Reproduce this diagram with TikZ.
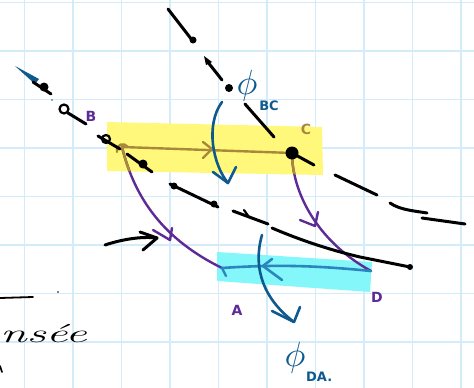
\documentclass[tikz,border=0pt]{standalone}
\usepackage{fontspec}
\setsansfont{DejaVu Sans}
\definecolor{gridblue}{HTML}{D4ECF9}
\definecolor{hlyellow}{HTML}{FFF87A}
\definecolor{hlcyan}{HTML}{7EF7FA}
\definecolor{purp}{HTML}{5E2A96}
\definecolor{brn}{HTML}{A8883A}
\definecolor{inkblue}{HTML}{0E5A8E}
\definecolor{lineblue}{HTML}{2C86BE}
\begin{document}
\begin{tikzpicture}[x=1pt,y=-1pt,
  gridline/.style={draw=gridblue,line width=1.3pt},
  ink/.style={black,line width=3pt,line cap=round,line join=round},
  thinink/.style={black,line width=2.2pt,line cap=round,line join=round},
  pline/.style={purp,line width=2.4pt,line cap=round,line join=round},
  bline/.style={inkblue,line width=2.6pt,line cap=round,line join=round},
  lab/.style={font=\sffamily\bfseries\fontsize{14}{14}\selectfont,inner sep=0pt},
  philab/.style={inkblue,inner sep=0pt},
  sublab/.style={inkblue,font=\sffamily\bfseries\fontsize{13}{13}\selectfont,inner sep=0pt}]
\useasboundingbox (0,0) rectangle (474,388);
\fill[white] (0,0) rectangle (474,388);
% grid
\foreach \x in {24.5,73,121.5,170,218.5,267,315.5,364,412.5,461}
  \draw[gridline] (\x,0) -- (\x,388);
\foreach \y in {2.5,51,99.5,148,196.5,245,293.5,342}
  \draw[gridline] (0,\y) -- (474,\y);
% key points
\coordinate (B) at (122,147);
\coordinate (C) at (292,153);
\coordinate (A) at (222,268);
\coordinate (D) at (371,271);
% highlights
\path[fill=hlyellow] (107,122) -- (322,127) -- (323,175) -- (107,171) -- cycle;
\path[fill=hlcyan,opacity=0.95] (217,252) -- (372,262) -- (370,292) -- (217,281) -- cycle;
% purple curves
\draw[pline] (B) .. controls (135,200) and (165,240) .. (A);
\draw[pline] (153,230) -- (170,240) -- (172,228);
\draw[pline] (C) .. controls (292,190) and (315,240) .. (D);
\draw[pline] (300,220) -- (315,226) -- (318,212);
% brown parts (purple under yellow)
\begin{scope}
  \clip (107,122) -- (322,127) -- (323,175) -- (107,171) -- cycle;
  \draw[pline,brn] (B) .. controls (135,200) and (165,240) .. (A);
  \draw[pline,brn] (C) .. controls (292,190) and (315,240) .. (D);
\end{scope}
\draw[pline,brn] (B) -- (C);
\draw[pline,brn] (117,152) .. controls (116,144) and (124,142) .. (128,147);
\draw[pline,brn] (203,142) -- (212,149) -- (203,158);
% blue line D -> A
\draw[lineblue,line width=2.6pt,line cap=round] (D) .. controls (320,266) and (280,264) .. (A);
\draw[lineblue,line width=2.6pt,line cap=round] (272,259) -- (263,266) -- (282,280);
\draw[lineblue,line width=2.4pt,line cap=round] (A) -- (226,276);
% black line 1
\fill[inkblue] (15,66) -- (39,79) -- (35,84) -- cycle;
\draw[ink] (33,82) -- (51,94);
\fill (44,87) circle (4.5);
\fill[inkblue] (52,100) circle (0.9);
\draw[thinink] (64,109) circle (4.5);
\draw[ink] (68,113) -- (86,124);
\draw[thinink] (106,139) circle (4);
\draw[ink] (98,136) -- (120,149);
\draw[ink] (127,154) -- (152,172);
\fill (143,164) circle (4.5);
\draw[ink] (170,184) -- (218,207);
\fill (174,186) circle (3.5);
\fill (214,204) circle (3.5);
\draw[ink] (233,211) -- (268,224);
\draw[thinink] (244,210) -- (249,217);
\draw[ink] (272,228) .. controls (300,240) and (330,250) .. (360,257) -- (410,267);
\fill (410,267) circle (3);
% black line 2
\draw[ink] (168,9) -- (192,40);
\fill (193,40) circle (3.5);
\fill (204,56) -- (212,62) -- (206,65) -- cycle;
\draw[ink] (207,61) -- (222,80);
\fill (229,88) circle (4);
\draw[ink] (245,104) -- (274,137);
\fill (C) circle (6.5);
\draw[ink] (C) -- (314,165);
\draw[ink] (335,175) -- (377,195);
\draw[ink] (390,203) .. controls (400,210) and (415,211) .. (427,213);
\draw[ink] (422,218) -- (465,224);
% left arrow
\coordinate (LT) at (157,238);
\draw[ink] (105,245) .. controls (120,240) and (140,236) .. (LT);
\draw[ink] (140,232) -- (LT) -- (143,250);
% blue flux arrows
\draw[bline] (222,102) .. controls (205,125) and (213,165) .. (228,183);
\draw[bline] (213,172) -- (228,183) -- (236,167);
\draw[bline] (262,235) .. controls (252,270) and (265,300) .. (294,322);
\draw[bline] (272,311) -- (294,322) -- (300,307);
% labels
\node[lab,purp] (lB) at (91,116) {B};
\node[lab,brn] (lC) at (306,129) {C};
\node[lab,purp] (lA) at (237,310) {A};
\node[lab,purp] (lD) at (377,297) {D};
\node[philab] (phiBC) at (247,86) {\scalebox{3.5}{$\phi$}};
\node[sublab] (sBC) at (269,106) {BC};
\node[philab] (phiDA) at (295,358) {\scalebox{3.5}{$\phi$}};
\node[sublab,anchor=west] (sDA) at (306,377) {DA.};
% bottom-left handwriting
\draw[thinink,line width=1.8pt] (0,298) -- (33,297);
\node[anchor=base west,inner sep=0pt] (word) at (0,342) {\scalebox{1.85}[1]{\fontsize{26}{26}\selectfont\itshape nsée}};
\fill (58,292) circle (0.8);
\draw[thinink,line width=1.6pt] (0,366) -- (2,372);
\end{tikzpicture}
\end{document}
